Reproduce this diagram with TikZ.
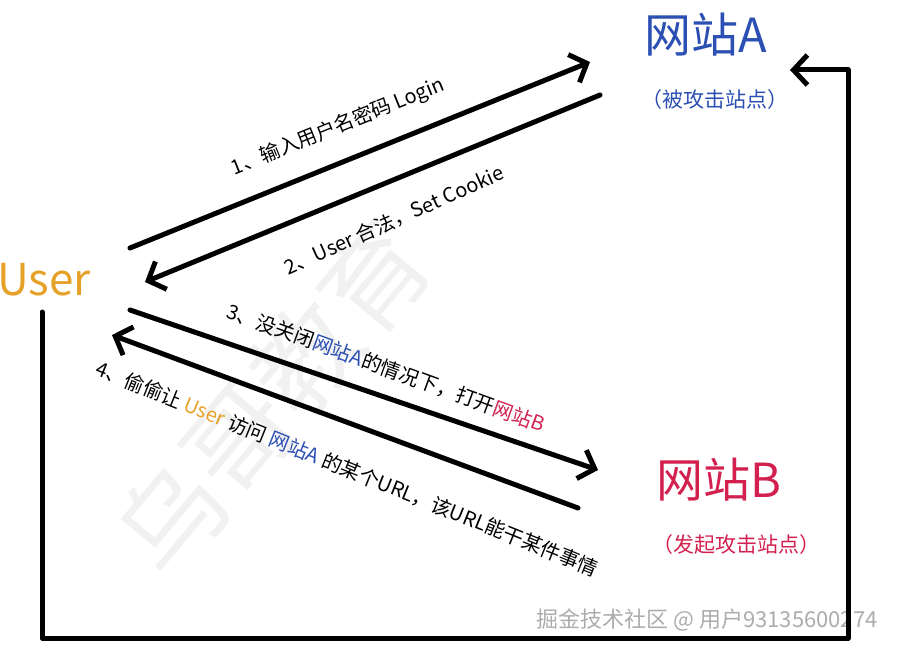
\documentclass[tikz,border=0pt]{standalone}
\usepackage{fontspec}
\setmainfont{Noto Sans CJK SC}
\usetikzlibrary{arrows.meta}

\definecolor{siteAblue}{HTML}{2B4FB3}
\definecolor{siteBred}{HTML}{D3214F}
\definecolor{userorange}{HTML}{E6A128}

\tikzset{
  flow/.style={line width=5pt, line cap=round, line join=round,
    -{Straight Barb[length=14pt,width=30pt,line width=5pt]}},
  steptext/.style={font=\fontsize{20}{22}\selectfont, inner sep=0pt},
  sitename/.style={font=\fontsize{47}{50}\selectfont, inner sep=0pt},
  sitenote/.style={font=\fontsize{21}{24}\selectfont, inner sep=0pt},
}

\begin{document}
\begin{tikzpicture}[x=1pt,y=-1pt]
    \useasboundingbox (0,0) rectangle (899,650);

    % 水印
    \node[rotate=50, text=gray!11, font=\fontsize{105}{105}\selectfont] (wm) at (272,398) {乌哥教育};
    \node[text=gray!65, font=\fontsize{22}{24}\selectfont, anchor=east] (credit) at (881,620) {掘金技术社区 @ 用户93135600274};

    % 站点
    \node[sitename, text=userorange, anchor=west, font=\fontsize{44}{48}\selectfont] (user) at (-3,280) {User};
    \node[sitename, text=siteAblue] (siteA) at (706,35) {网站A};
    \node[sitenote, text=siteAblue] (siteAnote) at (715,100) {（被攻击站点）};
    \node[sitename, text=siteBred] (siteB) at (719,480) {网站B};
    \node[sitenote, text=siteBred] (siteBnote) at (736,545) {（发起攻击站点）};

    % 箭头端点
    \coordinate (a1s) at (130,248);
    \coordinate (a1e) at (590,62);
    \coordinate (a2s) at (600,95);
    \coordinate (a2e) at (145,282);
    \coordinate (a3s) at (130,310);
    \coordinate (a3e) at (598,470);
    \coordinate (a4s) at (578,508);
    \coordinate (a4e) at (112,335);
    \coordinate (loopS) at (42,312);
    \coordinate (loopC) at (848,638);
    \coordinate (loopE) at (790,70);

    % 请求
    \draw[flow] (a1s) -- (a1e);
    \draw[flow] (a2s) -- (a2e);
    \draw[flow] (a3s) -- (a3e);
    \draw[flow] (a4s) -- (a4e);
    \draw[flow] (loopS) |- (loopC) |- (loopE);

    % 步骤说明
    \node[steptext, rotate=22] (s1) at (338,127) {1、输入用户名密码 Login};
    \node[steptext, rotate=24] (s2) at (394,220) {2、User 合法，Set Cookie};
    \node[steptext, rotate=-20] (s3) at (386,368) {3、没关闭\textcolor{siteAblue}{网站A}的情况下，打开\textcolor{siteBred}{网站B}};
    \node[steptext, rotate=-22] (s4) at (347,469) {4、偷偷让 \textcolor{userorange}{User} 访问 \textcolor{siteAblue}{网站A} 的某个URL，该URL能干某件事情};
\end{tikzpicture}
\end{document}
